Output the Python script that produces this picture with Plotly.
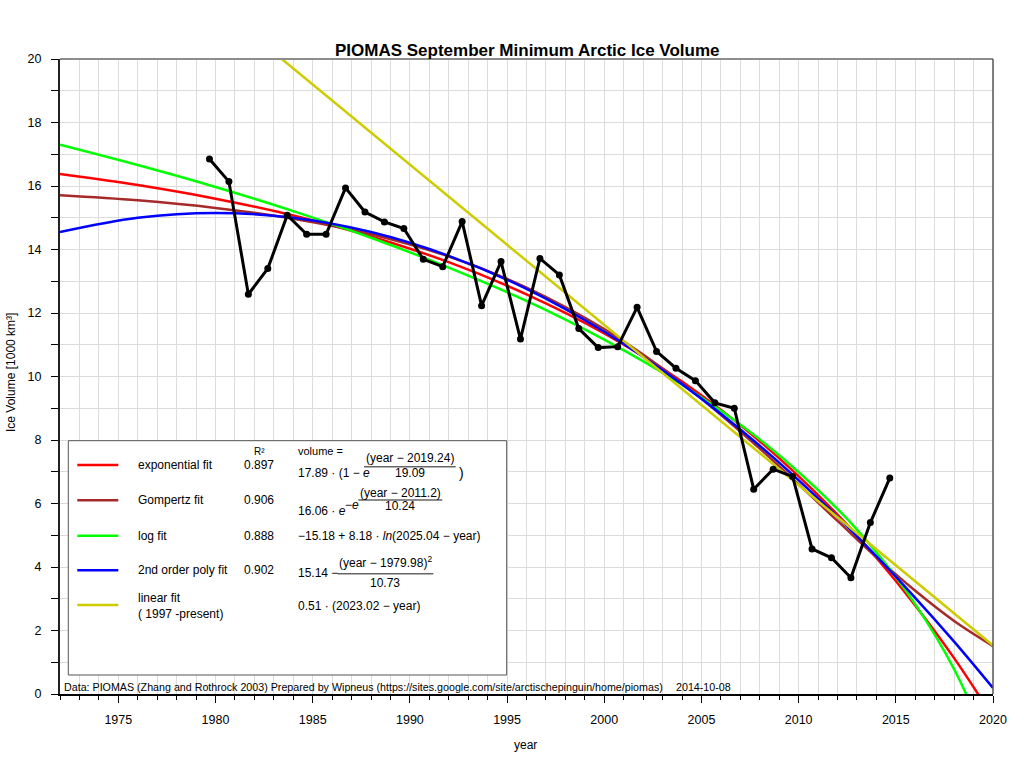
import plotly.graph_objects as go

# ---------------- data ----------------
years = list(range(1979, 2015))
volume = [16.85, 16.14, 12.59, 13.40, 15.08, 14.48, 14.48, 15.94, 15.18, 14.87,
          14.66, 13.69, 13.46, 14.88, 12.23, 13.62, 11.18, 13.72, 13.20, 11.51,
          10.91, 10.94, 12.18, 10.79, 10.26, 9.87, 9.17, 9.00, 6.45, 7.08,
          6.85, 4.57, 4.29, 3.66, 5.40, 6.80]
sept_offset = 0.69  # mid-September as fraction of year
year_dec = [y + sept_offset for y in years]

fit_years = [1972, 1976, 1980, 1984, 1988, 1992, 1996, 2000, 2004, 2008, 2012, 2014, 2016, 2018, 2020]
fit_exponential = [16.38, 16.03, 15.60, 15.07, 14.41, 13.60, 12.59, 11.36, 9.84, 7.96, 5.65, 4.29, 2.79, 1.13, -0.73]
fit_gompertz = [15.71, 15.55, 15.31, 14.97, 14.48, 13.78, 12.80, 11.49, 9.79, 7.73, 5.45, 4.31, 3.25, 2.30, 1.51]
fit_log = [17.30, 16.66, 15.97, 15.21, 14.37, 13.43, 12.38, 11.16, 9.74, 8.02, 5.83, 4.46, 2.83, 0.78, -1.95]
fit_poly = [14.55, 15.00, 15.15, 15.00, 14.55, 13.80, 12.76, 11.41, 9.76, 7.82, 5.58, 4.34, 3.03, 1.65, 0.19]
lin_years = [1972, 2020]
fit_linear = [25.76, 1.53]

fit_names = ["exponential fit", "Gompertz fit", "log fit", "2nd order poly fit", "linear fit<br>( 1997 -present)"]
fit_r2 = ["0.897", "0.906", "0.888", "0.902", ""]
fit_colors = ["#ff0000", "#a52a2a", "#00ff00", "#0000ff", "#cccc00"]

x_ticks = [1975, 1980, 1985, 1990, 1995, 2000, 2005, 2010, 2015, 2020]
y_ticks = [0, 2, 4, 6, 8, 10, 12, 14, 16, 18, 20]

FONT = "Liberation Sans, Arial, sans-serif"

# ---------------- figure ----------------
fig = go.Figure()

curves = [
    (fit_years, fit_exponential, fit_colors[0]),
    (fit_years, fit_gompertz, fit_colors[1]),
    (fit_years, fit_log, fit_colors[2]),
    (fit_years, fit_poly, fit_colors[3]),
    (lin_years, fit_linear, fit_colors[4]),
]
for xs, ys, c in curves:
    fig.add_trace(go.Scatter(x=xs, y=ys, mode="lines",
                             line=dict(color=c, width=2.5, shape="spline", smoothing=1.0),
                             hoverinfo="skip"))

fig.add_trace(go.Scatter(x=year_dec, y=volume, mode="lines+markers",
                         line=dict(color="black", width=3),
                         marker=dict(color="black", size=7)))

W, H = 1024, 768
PLOT_L, PLOT_R, PLOT_T, PLOT_B = 60, 993, 59, 694   # plot area in page pixels
L, T, R, B = PLOT_L, PLOT_T, W - PLOT_R, H - PLOT_B
PW, PH = PLOT_R - PLOT_L, PLOT_B - PLOT_T


def px(x):
    return (x - PLOT_L) / PW


def py(y):
    return (PLOT_B - y) / PH


shapes = []
annotations = []

# frame lines top / right
shapes.append(dict(type="line", xref="paper", yref="paper", x0=0, x1=1, y0=1, y1=1,
                   line=dict(color="#8c8c8c", width=2)))
shapes.append(dict(type="line", xref="paper", yref="paper", x0=1, x1=1, y0=0, y1=1,
                   line=dict(color="#555555", width=1.5)))

# legend box
shapes.append(dict(type="rect", xref="paper", yref="paper",
                   x0=px(68.3), x1=px(506.7), y0=py(675), y1=py(440.7),
                   fillcolor="white", line=dict(color="#555555", width=1), layer="above"))

row_y = [465, 500.3, 535.7, 570.3, 605]
for i, (name, r2, col) in enumerate(zip(fit_names, fit_r2, fit_colors)):
    shapes.append(dict(type="line", xref="paper", yref="paper",
                       x0=px(77.3), x1=px(118.3), y0=py(row_y[i]), y1=py(row_y[i]),
                       line=dict(color=col, width=2.5), layer="above"))
    annotations.append(dict(xref="paper", yref="paper", x=px(136), y=py(row_y[i] if i < 4 else 606),
                            text=name, showarrow=False, xanchor="left", yanchor="middle",
                            align="left", font=dict(size=12, color="black")))
    if r2:
        annotations.append(dict(xref="paper", yref="paper", x=px(259), y=py(row_y[i]),
                                text=r2, showarrow=False, xanchor="center", yanchor="middle",
                                font=dict(size=12, color="black")))

annotations.append(dict(xref="paper", yref="paper", x=px(259), y=py(451), text="R²",
                        showarrow=False, xanchor="center", yanchor="middle", font=dict(size=10)))
annotations.append(dict(xref="paper", yref="paper", x=px(296), y=py(451.3), text="volume =",
                        showarrow=False, xanchor="left", yanchor="middle", font=dict(size=11)))


def txt(x, y, s, anchor="left", size=12):
    annotations.append(dict(xref="paper", yref="paper", x=px(x), y=py(y), text=s,
                            showarrow=False, xanchor=anchor, yanchor="middle",
                            font=dict(size=size, color="black")))


def frac_line(x0, x1, y):
    shapes.append(dict(type="line", xref="paper", yref="paper", x0=px(x0), x1=px(x1),
                       y0=py(y), y1=py(y), line=dict(color="#666666", width=1.5), layer="above"))


# exponential
txt(296, 473, "17.89 · (1 − <i>e</i>")
txt(410, 458.3, "(year − 2019.24)", "center")
frac_line(364, 455.7, 466.7)
txt(410, 472.5, "19.09", "center")
txt(457, 473, ")", "left", 14)
# Gompertz
txt(296, 511, "16.06 · <i>e</i>")
txt(343, 505, "−<i>e</i>")
txt(400, 492.7, "(year − 2011.2)", "center")
frac_line(358.3, 442.3, 500)
txt(400, 506, "10.24", "center")
# log
txt(296, 536, "−15.18 + 8.18 · <i>ln</i>(2025.04 − year)")
# poly
txt(296, 573.3, "15.14 −")
txt(385, 561.5, "(year − 1979.98)<sup>2</sup>", "center")
frac_line(337.7, 433.3, 573.7)
txt(385, 582.5, "10.73", "center")
# linear
txt(296, 605.7, "0.51 · (2023.02 − year)")

# footer
annotations.append(dict(xref="paper", yref="paper", x=px(62), y=py(687),
                        text="Data: PIOMAS (Zhang and Rothrock 2003) Prepared by Wipneus "
                             "(https://sites.google.com/site/arctischepinguin/home/piomas)",
                        showarrow=False, xanchor="left", yanchor="middle", font=dict(size=10.7)))
annotations.append(dict(xref="paper", yref="paper", x=px(674), y=py(687), text="2014-10-08",
                        showarrow=False, xanchor="left", yanchor="middle", font=dict(size=10.7)))

# title and axis titles
annotations.append(dict(xref="paper", yref="paper", x=px(526.5), y=py(50),
                        text="<b>PIOMAS September Minimum Arctic Ice Volume</b>",
                        showarrow=False, xanchor="center", yanchor="middle", font=dict(size=17)))
annotations.append(dict(xref="paper", yref="paper", x=px(525), y=py(745), text="year",
                        showarrow=False, xanchor="center", yanchor="middle", font=dict(size=12)))
annotations.append(dict(xref="paper", yref="paper", x=px(11), y=py(373),
                        text="Ice Volume [1000 km³]", textangle=-90,
                        showarrow=False, xanchor="center", yanchor="middle", font=dict(size=12)))

fig.update_layout(
    width=W, height=H,
    margin=dict(l=L, r=R, t=T, b=B, pad=0),
    paper_bgcolor="white", plot_bgcolor="white",
    font=dict(family=FONT, size=12, color="black"),
    showlegend=False,
    shapes=shapes,
    annotations=annotations,
)
fig.update_xaxes(range=[1972, 2020], tickvals=x_ticks, ticks="outside", ticklen=7, tickwidth=1,
                 tickcolor="black", showline=True, linecolor="black", linewidth=1.5,
                 showgrid=True, gridcolor="#dcdcdc", gridwidth=1, zeroline=False,
                 ticklabelstandoff=6, tickfont=dict(size=12.5),
                 minor=dict(dtick=1, tick0=1972, ticks="outside", ticklen=4, tickcolor="black",
                            showgrid=True, gridcolor="#dcdcdc", gridwidth=1))
fig.update_yaxes(range=[0, 20], tickvals=y_ticks, ticks="outside", ticklen=7, tickwidth=1,
                 tickcolor="black", showline=True, linecolor="#222222", linewidth=2,
                 showgrid=True, gridcolor="#dcdcdc", gridwidth=1, zeroline=False,
                 ticklabelstandoff=7, tickfont=dict(size=12.5),
                 minor=dict(dtick=1, tick0=0, ticks="outside", ticklen=7, tickcolor="black",
                            showgrid=True, gridcolor="#dcdcdc", gridwidth=1))

fig.write_html("out.html", config={"displayModeBar": False},
               post_script="document.body.style.margin='0px';document.body.style.overflow='hidden';")
